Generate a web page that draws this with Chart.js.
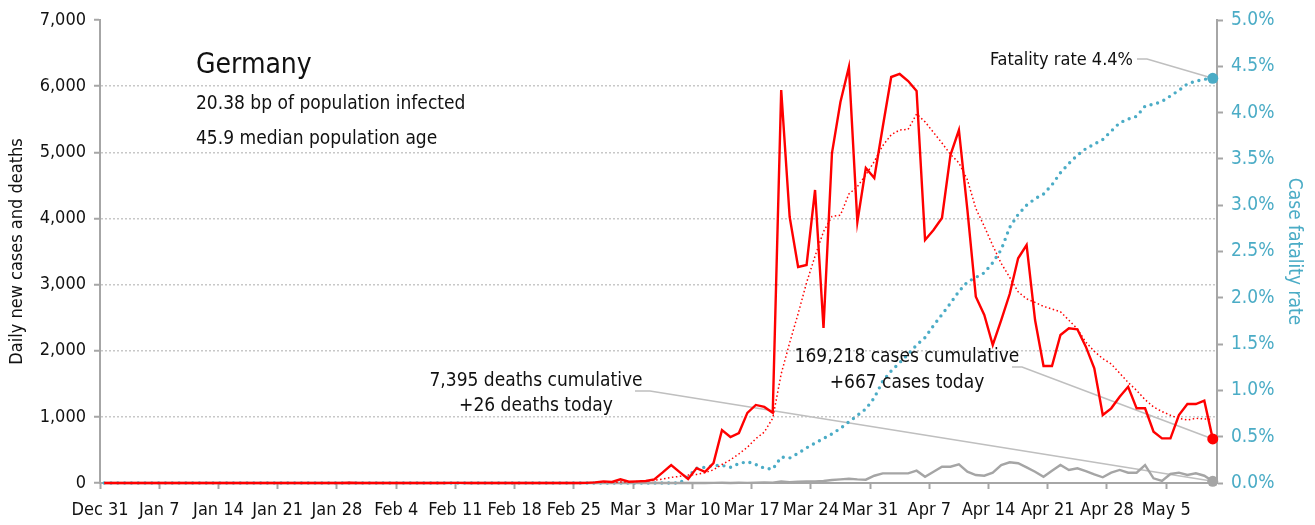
<!DOCTYPE html>
<html>
<head>
<meta charset="utf-8">
<script src="https://cdn.jsdelivr.net/npm/chart.js@4.4.1/dist/chart.umd.min.js"></script>
<style>
  html, body { margin: 0; padding: 0; background: #fff; }
  #wrap { width: 1315px; height: 525px; position: relative; }
</style>
</head>
<body>
<div id="wrap"><canvas id="myChart"></canvas></div>
<script>
// one value per day, Dec 31 (day 0) .. May 10 (day 131)
var weekLabels = ['Dec 31','Jan 7','Jan 14','Jan 21','Jan 28','Feb 4','Feb 11','Feb 18','Feb 25',
                  'Mar 3','Mar 10','Mar 17','Mar 24','Mar 31','Apr 7','Apr 14','Apr 21','Apr 28','May 5'];

var dailyCases = [
  0,0,0,0,0,0,0,
  0,0,0,0,0,0,0,
  0,0,0,0,0,0,0,
  0,0,0,0,0,0,0,
  1,3,0,1,2,0,2,
  1,2,0,1,0,0,2,
  2,0,0,0,0,0,0,
  0,0,0,0,0,0,0,
  0,2,10,25,15,55,20,
  25,30,55,160,270,165,60,
  225,170,300,800,695,755,1060,
  1180,1150,1063,5940,4022,3266,3296,
  4430,2343,4989,5760,6290,3946,4763,
  4611,5382,6138,6184,6078,5927,3674,
  3825,4007,4959,5337,4133,2817,2540,
  2087,2464,2857,3397,3598,2464,1769,
  1769,2238,2339,2324,2061,1734,1028,
  1129,1305,1456,1129,1129,776,675,
  675,1028,1194,1194,1244,667
];

var avgCases = [
  0,0,0,0,0,0,0,
  0,0,0,0,0,0,0,
  0,0,0,0,0,0,0,
  0,0,0,0,0,0,0,
  1,1,1,1,1,1,1,
  1,1,1,1,1,1,1,
  1,1,0,0,0,0,0,
  0,0,0,0,0,0,0,
  0,1,2,6,8,15,18,
  22,32,40,60,85,100,120,
  130,155,200,280,350,440,540,
  670,770,980,1650,2120,2560,3030,
  3430,3800,4030,4050,4370,4480,4660,
  4860,5100,5265,5337,5345,5579,5460,
  5300,5140,4970,4840,4585,4150,3880,
  3590,3320,3110,2890,2785,2730,2670,
  2630,2590,2460,2330,2130,1990,1880,
  1800,1660,1520,1400,1260,1150,1080,
  1025,975,953,978,968,960
];

var dailyDeaths = [
  0,0,0,0,0,0,0,
  0,0,0,0,0,0,0,
  0,0,0,0,0,0,0,
  0,0,0,0,0,0,0,
  0,0,0,0,0,0,0,
  0,0,0,0,0,0,0,
  0,0,0,0,0,0,0,
  0,0,0,0,0,0,0,
  0,0,0,0,0,0,0,
  0,0,0,0,0,0,2,
  0,1,2,4,1,4,2,
  4,8,6,24,13,19,24,
  25,30,45,55,65,55,50,
  110,146,146,146,146,186,95,
  171,246,246,283,171,121,110,
  156,272,313,298,237,171,95,
  186,272,197,222,181,131,86,
  156,197,156,156,272,71,30,
  136,156,121,146,110,26
];

var fatalityRate = [
  0,0,0,0,0,0,0,
  0,0,0,0,0,0,0,
  0,0,0,0,0,0,0,
  0,0,0,0,0,0,0,
  0,0,0,0,0,0,0,
  0,0,0,0,0,0,0,
  0,0,0,0,0,0,0,
  0,0,0,0,0,0,0,
  0,0,0,0,0,0,0,
  0,0,0,0,0,0,0.07,
  0.16,0.17,0.19,0.19,0.17,0.21,0.23,
  0.20,0.16,0.15,0.28,0.27,0.32,0.38,
  0.43,0.48,0.53,0.59,0.66,0.73,0.80,
  0.92,1.10,1.21,1.30,1.39,1.49,1.57,
  1.70,1.82,1.94,2.07,2.17,2.22,2.27,
  2.38,2.52,2.76,2.90,3.00,3.07,3.12,
  3.22,3.35,3.45,3.54,3.61,3.66,3.71,
  3.80,3.89,3.93,3.96,4.07,4.09,4.12,
  4.18,4.24,4.31,4.34,4.36,4.37
];

var FONT = "'Liberation Sans Narrow', 'DejaVu Sans Condensed', 'Roboto Condensed', sans-serif";
var RED = '#ff0000', TEAL = '#4bacc6', GREY = '#a5a5a5', AXIS = '#a6a6a6', LEADER = '#bfbfbf';
var last = dailyCases.length - 1;

function pts(arr) {
  // each day sits in the middle of its day slot
  return arr.map(function (v, i) { return { x: i + 0.5, y: v }; });
}
function endDot(r) {
  return function (c) { return c.dataIndex === last ? r : 0; };
}

var notes = {
  id: 'notes',
  beforeDatasetsDraw: function (chart) {
    var ctx = chart.ctx;
    function leader(x0, y0, x1, p) {
      ctx.beginPath();
      ctx.moveTo(x0, y0);
      ctx.lineTo(x1, y0);
      ctx.lineTo(p.x, p.y);
      ctx.stroke();
    }
    ctx.save();
    ctx.strokeStyle = LEADER;
    ctx.lineWidth = 1.6;
    leader(1137, 59, 1147, chart.getDatasetMeta(3).data[last]);
    leader(1012, 367, 1022, chart.getDatasetMeta(0).data[last]);
    leader(635, 391, 650, chart.getDatasetMeta(2).data[last]);
    ctx.restore();
  },
  afterDatasetsDraw: function (chart) {
    var ctx = chart.ctx;
    ctx.save();
    ctx.fillStyle = '#111';
    ctx.textBaseline = 'middle';
    ctx.textAlign = 'left';
    ctx.font = '28px ' + FONT;
    ctx.fillText('Germany', 196, 66);
    ctx.font = '19px ' + FONT;
    ctx.fillText('20.38 bp of population infected', 196, 104);
    ctx.fillText('45.9 median population age', 196, 139);
    ctx.textAlign = 'right';
    ctx.font = '18px ' + FONT;
    ctx.fillText('Fatality rate 4.4%', 1133, 60);
    ctx.textAlign = 'center';
    ctx.font = '19px ' + FONT;
    ctx.fillText('169,218 cases cumulative', 907, 357);
    ctx.fillText('+667 cases today', 907, 383);
    ctx.fillText('7,395 deaths cumulative', 536, 381);
    ctx.fillText('+26 deaths today', 536, 406);
    ctx.restore();
  }
};

var ctx = document.getElementById('myChart').getContext('2d');
var myChart = new Chart(ctx, {
  type: 'line',
  data: {
    datasets: [
      {
        label: 'Daily new cases',
        data: pts(dailyCases),
        yAxisID: 'y',
        borderColor: RED,
        backgroundColor: RED,
        borderWidth: 2.4,
        clip: false,
        pointRadius: endDot(5.5),
        pointBorderWidth: 0,
        pointBackgroundColor: RED
      },
      {
        label: 'Average',
        data: pts(avgCases),
        yAxisID: 'y',
        borderColor: RED,
        borderWidth: 1.5,
        borderDash: [1.5, 2.5],
        pointRadius: 0
      },
      {
        label: 'Daily deaths',
        data: pts(dailyDeaths),
        yAxisID: 'y',
        borderColor: GREY,
        backgroundColor: GREY,
        borderWidth: 2.4,
        clip: false,
        pointRadius: endDot(5.5),
        pointBorderWidth: 0,
        pointBackgroundColor: GREY
      },
      {
        label: 'Case fatality rate',
        data: pts(fatalityRate),
        yAxisID: 'y1',
        borderColor: TEAL,
        backgroundColor: TEAL,
        borderWidth: 3.4,
        borderDash: [0, 6.8],
        borderCapStyle: 'round',
        clip: false,
        pointRadius: endDot(5.5),
        pointBorderWidth: 0,
        pointBackgroundColor: TEAL
      }
    ]
  },
  options: {
    responsive: true,
    maintainAspectRatio: false,
    animation: false,
    devicePixelRatio: 1,
    layout: { padding: { top: 20, left: 0, right: 0, bottom: 0 } },
    plugins: { legend: { display: false }, tooltip: { enabled: false } },
    elements: { line: { tension: 0 } },
    scales: {
      x: {
        type: 'linear',
        position: 'bottom',
        min: 0,
        max: last + 1,
        afterBuildTicks: function (scale) {
          scale.ticks = weekLabels.map(function (l, i) { return { value: i * 7 }; });
        },
        afterFit: function (scale) { scale.height = 42; },
        ticks: {
          color: '#111',
          font: { family: FONT, size: 18 },
          padding: 11,
          maxRotation: 0,
          autoSkip: false,
          callback: function (v, i) { return weekLabels[i]; }
        },
        grid: { drawOnChartArea: false, drawTicks: true, tickLength: 6, tickColor: AXIS, tickWidth: 2 },
        border: { display: true, color: AXIS, width: 2 }
      },
      y: {
        position: 'left',
        min: 0,
        max: 7000,
        afterFit: function (scale) { scale.width = 100; },
        ticks: {
          stepSize: 1000,
          color: '#111',
          padding: 8,
          font: { family: FONT, size: 18 },
          callback: function (v) { return v.toLocaleString('en-US'); }
        },
        grid: {
          color: function (c) { return c.tick && c.tick.value === 7000 ? 'rgba(0,0,0,0)' : '#c8c8c8'; },
          lineWidth: 1.5, tickLength: 6, tickColor: AXIS, tickWidth: 2
        },
        border: { display: true, color: AXIS, width: 2, dash: [2, 2] },
        title: {
          display: true,
          text: 'Daily new cases and deaths',
          color: '#111',
          font: { family: FONT, size: 18 },
          padding: { top: 7, bottom: 0 }
        }
      },
      y1: {
        position: 'right',
        min: 0,
        max: 5,
        afterFit: function (scale) { scale.width = 98; },
        ticks: {
          stepSize: 0.5,
          color: TEAL,
          padding: 8,
          font: { family: FONT, size: 19 },
          callback: function (v) { return v.toFixed(1) + '%'; }
        },
        grid: { drawOnChartArea: false, tickLength: 6, tickColor: AXIS, tickWidth: 2 },
        border: { display: true, color: AXIS, width: 2 },
        title: {
          display: true,
          text: 'Case fatality rate',
          color: TEAL,
          font: { family: FONT, size: 19 },
          padding: { top: 10, bottom: 0 }
        }
      }
    }
  },
  plugins: [notes]
});
</script>
</body>
</html>
